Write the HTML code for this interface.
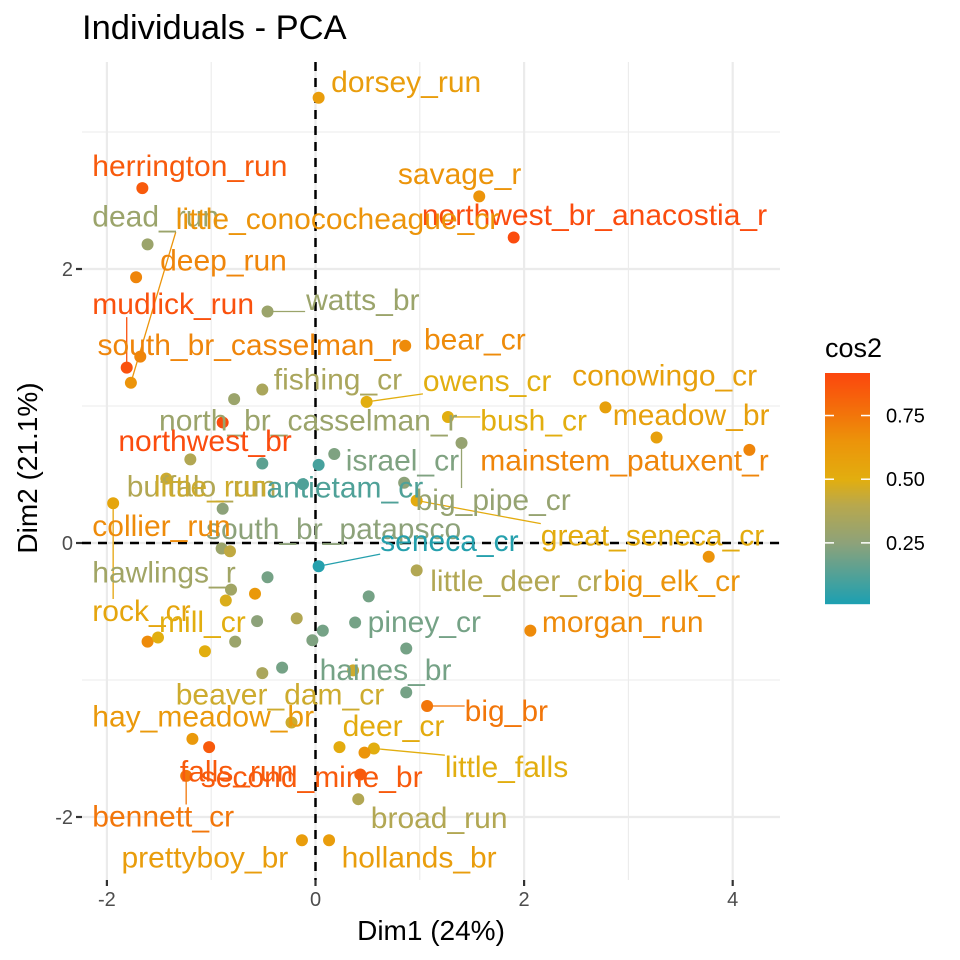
<!DOCTYPE html>
<html><head><meta charset="utf-8"><style>
body{margin:0;background:#fff;}
svg{display:block;font-family:"Liberation Sans",sans-serif;}
</style></head><body>
<svg id="chart" width="960" height="960" viewBox="0 0 960 960" xmlns="http://www.w3.org/2000/svg">
<rect width="960" height="960" fill="#fff"/>
<text x="82" y="39" font-size="34.5" fill="#000">Individuals - PCA</text>
<g id="grid"></g>
<g id="axes"></g>
<g id="segs"></g>
<g id="pts"></g>
<g id="labs"></g>
<text x="431" y="940" font-size="28" text-anchor="middle" fill="#000">Dim1 (24%)</text>
<text transform="translate(37,468) rotate(-90)" font-size="28" text-anchor="middle" fill="#000">Dim2 (21.1%)</text>
<g id="legend"></g>
</svg>
<script>
const names=["dorsey_run","herrington_run","savage_r","northwest_br_anacostia_r","dead_run","little_conococheague_cr","deep_run","watts_br","mudlick_run","south_br_casselman_r","bear_cr","fishing_cr","owens_cr","conowingo_cr","meadow_br","mainstem_patuxent_r","bush_cr","north_br_casselman_r","northwest_br","israel_cr","big_pipe_cr","buffalo_run","","","antietam_cr","","great_seneca_cr","little_run","rock_cr","south_br_patapsco","seneca_cr","","","big_elk_cr","little_deer_cr","hawlings_r","","","","","collier_run","mill_cr","piney_cr","morgan_run","","","","","","","","haines_br","","","","beaver_dam_cr","big_br","hay_meadow_br","deer_cr","falls_run","little_falls","","bennett_cr","second_mine_br","broad_run","prettyboy_br","hollands_br"];
const dim1=[0.03,-1.66,1.57,1.90,-1.61,-1.77,-1.72,-0.46,-1.81,-1.68,0.86,-0.51,0.49,2.78,3.27,4.16,1.27,-0.78,-0.89,0.18,1.40,-1.20,-0.51,0.03,-0.12,0.85,0.97,-1.43,-1.94,-0.89,0.03,-0.90,-0.82,3.77,0.97,-0.81,-0.46,-0.58,-0.86,0.51,-1.61,-1.51,0.38,2.06,-0.56,-0.18,0.07,-0.03,-0.77,-1.06,0.87,0.87,0.36,-0.32,-0.51,-0.23,1.07,-1.18,0.23,-1.02,0.56,0.47,-1.24,0.43,0.41,-0.13,0.13];
const dim2=[3.25,2.59,2.53,2.23,2.18,1.17,1.94,1.69,1.28,1.36,1.44,1.12,1.03,0.99,0.77,0.68,0.92,1.05,0.88,0.65,0.73,0.61,0.58,0.57,0.43,0.44,0.31,0.47,0.29,0.25,-0.17,-0.04,-0.06,-0.10,-0.20,-0.34,-0.25,-0.37,-0.42,-0.39,-0.72,-0.69,-0.58,-0.64,-0.57,-0.55,-0.64,-0.71,-0.72,-0.79,-0.77,-1.09,-0.93,-0.91,-0.95,-1.31,-1.19,-1.43,-1.49,-1.49,-1.50,-1.53,-1.70,-1.69,-1.87,-2.17,-2.17];
const cos2=[0.6,0.85,0.65,0.9,0.3,0.65,0.7,0.3,0.88,0.7,0.68,0.35,0.5,0.58,0.58,0.7,0.5,0.3,0.9,0.22,0.28,0.38,0.15,0.1,0.12,0.25,0.52,0.45,0.55,0.25,0.03,0.3,0.42,0.65,0.38,0.32,0.2,0.62,0.48,0.2,0.68,0.5,0.2,0.68,0.25,0.38,0.2,0.22,0.3,0.5,0.2,0.2,0.45,0.2,0.35,0.45,0.75,0.62,0.52,0.85,0.5,0.65,0.75,0.85,0.38,0.6,0.6];
const labelDim1=[0.15,-2.14,0.79,1.02,-2.14,-1.34,-1.49,-0.09,-2.14,-2.09,1.04,-0.40,1.03,2.46,2.85,1.58,1.58,-1.50,-1.89,0.29,0.96,-1.81,0,0,-0.47,0,2.16,-1.55,-2.14,-1.05,0.62,0,0,2.76,1.10,-2.14,0,0,0,0,-2.14,-1.50,0.50,2.17,0,0,0,0,0,0,0,0.04,0,0,0,-1.34,1.43,-2.14,0.26,-1.30,1.24,0,-2.14,-1.10,0.53,-1.86,0.25];
const labelDim2=[3.36,2.75,2.69,2.39,2.38,2.36,2.06,1.77,1.74,1.44,1.48,1.19,1.18,1.22,0.93,0.60,0.89,0.89,0.74,0.60,0.31,0.41,0,0,0.40,0,0.05,0.41,-0.50,0.10,0.01,0,0,-0.28,-0.28,-0.22,0,0,0,0,0.12,-0.58,-0.58,-0.58,0,0,0,0,0,0,0,-0.93,0,0,0,-1.11,-1.23,-1.27,-1.34,-1.67,-1.64,0,-2.00,-1.71,-2.01,-2.30,-2.30];
const withSegment=["watts_br","owens_cr","bush_cr","big_pipe_cr","great_seneca_cr","seneca_cr","little_run","rock_cr","big_br","little_falls","bennett_cr","little_conococheague_cr","mudlick_run"];
const xTicks=[-2,0,2,4], yTicks=[-2,0,2];
const legendTicks=[0.25,0.5,0.75];

const X0=82,X1=780,Y0=62,Y1=880;
const sx=v=>315.5+v*104.3, sy=v=>543-v*137;
const NS="http://www.w3.org/2000/svg";
function mk(t,a,p){const e=document.createElementNS(NS,t);for(const k in a)e.setAttribute(k,a[k]);p.appendChild(e);return e;}
const stops=[[0.01,[27,160,178]],[0.25,[141,162,122]],[0.4,[184,168,77]],[0.5,[226,174,15]],[0.65,[236,148,10]],[0.75,[242,118,10]],[0.92,[252,70,14]]];
function col(v){if(v<=stops[0][0])return rgb(stops[0][1]);for(let i=1;i<stops.length;i++){if(v<=stops[i][0]){const a=stops[i-1],b=stops[i],t=(v-a[0])/(b[0]-a[0]);return rgb(a[1].map((c,j)=>c+(b[1][j]-c)*t));}}return rgb(stops[stops.length-1][1]);}
function rgb(c){return "rgb("+c.map(Math.round).join(",")+")";}

const grid=document.getElementById('grid');
for(let v=-2;v<=4;v+=1){const e=mk('line',{x1:sx(v),x2:sx(v),y1:Y0,y2:Y1,stroke:'#ebebeb','stroke-width':v%2===0?2.2:1.1},grid);

}
for(let v=-2;v<=3;v+=1){const e=mk('line',{x1:X0,x2:X1,y1:sy(v),y2:sy(v),stroke:'#ebebeb','stroke-width':v%2===0?2.2:1.1},grid);

}
const axes=document.getElementById('axes');
xTicks.forEach(v=>{const t=mk('line',{x1:sx(v),x2:sx(v),y1:Y1,y2:Y1+6,stroke:'#333','stroke-width':2.2},axes);


const l=mk('text',{x:sx(v),y:906,'font-size':20,'text-anchor':'middle',fill:'#4d4d4d'},axes);l.textContent=v;

});
yTicks.forEach(v=>{const t=mk('line',{x1:X0-6,x2:X0,y1:sy(v),y2:sy(v),stroke:'#333','stroke-width':2.2},axes);


const l=mk('text',{x:X0-9,y:sy(v)+7,'font-size':20,'text-anchor':'end',fill:'#4d4d4d'},axes);l.textContent=v;

});
const h=mk('line',{x1:X0,x2:X1,y1:sy(0),y2:sy(0),stroke:'#000','stroke-width':2.5,'stroke-dasharray':'9,7'},axes);


const vv=mk('line',{x1:sx(0),x2:sx(0),y1:Y0,y2:Y1,stroke:'#000','stroke-width':2.5,'stroke-dasharray':'9,7'},axes);



const pts=document.getElementById('pts'),labs=document.getElementById('labs'),segs=document.getElementById('segs');
for(let i=0;i<dim1.length;i++){
 const c=col(cos2[i]);
 const p=mk('circle',{cx:sx(dim1[i]),cy:sy(dim2[i]),r:6,fill:c},pts);
 
 
 if(names[i]){
  const t=mk('text',{x:sx(labelDim1[i]),y:sy(labelDim2[i]),'font-size':30,fill:c,'dominant-baseline':'central'},labs);
  t.textContent=names[i];
  
  
  if(withSegment.includes(names[i])){
   const b=t.getBBox();const px=sx(dim1[i]),py=sy(dim2[i]);
   const tx=Math.max(b.x,Math.min(px,b.x+b.width)),ty=Math.max(b.y+4,Math.min(py,b.y+b.height-4));
   const s=mk('line',{x1:px,y1:py,x2:tx,y2:ty,stroke:c,'stroke-width':1.3},segs);
   
   
  }
 }
}
const lg=document.getElementById('legend');
const lt=mk('text',{x:825,y:357,'font-size':27,fill:'#000'},lg);lt.textContent='cos2';


const vTop=0.917,vBot=0.01,bTop=373,bBot=604;
const by=v=>bBot-(v-vBot)/(vTop-vBot)*(bBot-bTop);
for(let y=bTop;y<bBot;y++){const v=vTop-(y-bTop)/(bBot-bTop)*(vTop-vBot);const r=mk('rect',{x:825,y:y,width:45,height:1.2,fill:col(v)},lg);

}
legendTicks.forEach(v=>{const y=by(v);
const a=mk('line',{x1:825,x2:834,y1:y,y2:y,stroke:'#fff','stroke-width':1.5},lg);


const b=mk('line',{x1:861,x2:870,y1:y,y2:y,stroke:'#fff','stroke-width':1.5},lg);


const t=mk('text',{x:886,y:y+7,'font-size':20,fill:'#000'},lg);t.textContent=v.toFixed(2);

});
</script>
</body></html>
